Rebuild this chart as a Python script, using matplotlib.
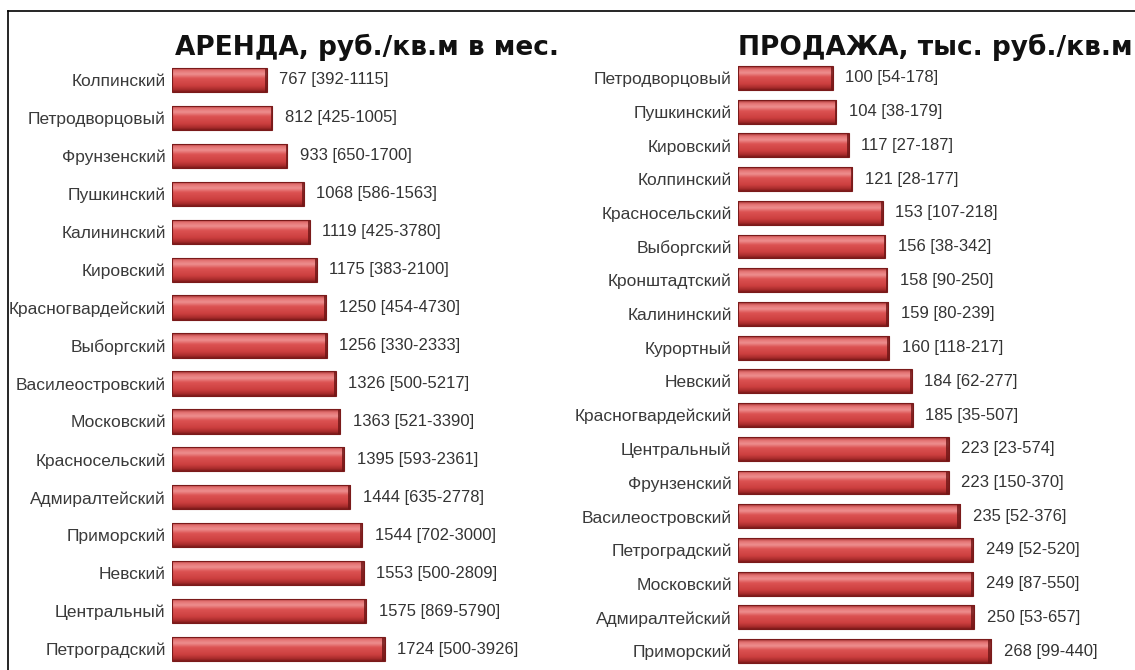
import matplotlib
matplotlib.use("Agg")
import matplotlib.pyplot as plt
import numpy as np
from matplotlib.colors import LinearSegmentedColormap
from matplotlib.lines import Line2D

plt.rcParams['font.family'] = ['Liberation Sans', 'DejaVu Sans']

# ---- data ----
rent_districts = ["Колпинский", "Петродворцовый", "Фрунзенский", "Пушкинский", "Калининский",
                  "Кировский", "Красногвардейский", "Выборгский", "Василеостровский", "Московский",
                  "Красносельский", "Адмиралтейский", "Приморский", "Невский", "Центральный",
                  "Петроградский"]
rent_values = [767, 812, 933, 1068, 1119, 1175, 1250, 1256, 1326, 1363, 1395, 1444, 1544, 1553, 1575, 1724]
rent_min = [392, 425, 650, 586, 425, 383, 454, 330, 500, 521, 593, 635, 702, 500, 869, 500]
rent_max = [1115, 1005, 1700, 1563, 3780, 2100, 4730, 2333, 5217, 3390, 2361, 2778, 3000, 2809, 5790, 3926]

sale_districts = ["Петродворцовый", "Пушкинский", "Кировский", "Колпинский", "Красносельский",
                  "Выборгский", "Кронштадтский", "Калининский", "Курортный", "Невский",
                  "Красногвардейский", "Центральный", "Фрунзенский", "Василеостровский",
                  "Петроградский", "Московский", "Адмиралтейский", "Приморский"]
sale_values = [100, 104, 117, 121, 153, 156, 158, 159, 160, 184, 185, 223, 223, 235, 249, 249, 250, 268]
sale_min = [54, 38, 27, 28, 107, 38, 90, 80, 118, 62, 35, 23, 150, 52, 52, 87, 53, 99]
sale_max = [178, 179, 187, 177, 218, 342, 250, 239, 217, 277, 507, 574, 370, 376, 520, 550, 657, 440]

rent_title = "АРЕНДА, руб./кв.м в мес."
sale_title = "ПРОДАЖА, тыс. руб./кв.м"

W, H = 1135, 670
fig = plt.figure(figsize=(W / 100, H / 100), dpi=100)
fig.patch.set_facecolor("white")

cmap = LinearSegmentedColormap.from_list("bar3d", [
    (0.0, "#9a2a2a"), (0.12, "#e37070"), (0.28, "#ee9090"), (0.45, "#dc5252"),
    (0.75, "#cc3f3f"), (0.92, "#a52a2a"), (1.0, "#7a1a1a")])
grad = np.linspace(0, 1, 64).reshape(-1, 1)


def panel(rect, names, vals, mins, maxs, xmax, height):
    ax = fig.add_axes(rect)
    y = np.arange(len(names))
    bars = ax.barh(y, vals, height=height, color="none", edgecolor="#7a1a1a", linewidth=0.8, zorder=3)
    for b in bars:
        x0, y0 = b.get_x(), b.get_y()
        w, h = b.get_width(), b.get_height()
        im = ax.imshow(grad, cmap=cmap, aspect="auto", extent=(x0, x0 + w, y0 + h, y0),
                       zorder=2, interpolation="bicubic")
        im.set_clip_path(b)
        # dark right cap
        ax.barh(b.get_y() + h / 2, w * 0.012, left=x0 + w - w * 0.012, height=h,
                color="#6e1515", alpha=0.8, zorder=2.5, linewidth=0)
    for yi, v, lo, hi in zip(y, vals, mins, maxs):
        ax.annotate(f"{v} [{lo}-{hi}]", xy=(v, yi), xytext=(9, 0), textcoords="offset points",
                    ha="left", va="center", fontsize=12, color="#333333")
    ax.set_xlim(0, xmax)
    ax.set_ylim(len(names) - 0.5, -0.5)
    ax.set_yticks(y)
    ax.set_yticklabels(names, fontsize=12.5, color="#3a3a3a")
    ax.tick_params(axis="y", length=0, pad=4.5)
    ax.set_xticks([])
    for s in ax.spines.values():
        s.set_visible(False)
    ax.patch.set_alpha(0)
    return ax


top = 1 - 61 / H
bottom = 1 - 668 / H
panel([172 / W, bottom, 393 / W, top - bottom], rent_districts, rent_values, rent_min, rent_max, 3187, 0.64)
panel([738 / W, bottom, 397 / W, top - bottom], sale_districts, sale_values, sale_min, sale_max, 420, 0.71)

fig.text(367 / W, 1 - 47 / H, rent_title, ha="center", va="center", fontsize=19,
         fontweight="bold", color="#111111", family="DejaVu Sans")
fig.text(935 / W, 1 - 47 / H, sale_title, ha="center", va="center", fontsize=19,
         fontweight="bold", color="#111111", family="DejaVu Sans")

# frame lines
fig.add_artist(Line2D([8 / W, 1], [1 - 11 / H, 1 - 11 / H], color="black", linewidth=1.2))
fig.add_artist(Line2D([8 / W, 8 / W], [0, 1 - 11 / H], color="black", linewidth=1.2))

fig.savefig("out.png", dpi=100, facecolor="white")
